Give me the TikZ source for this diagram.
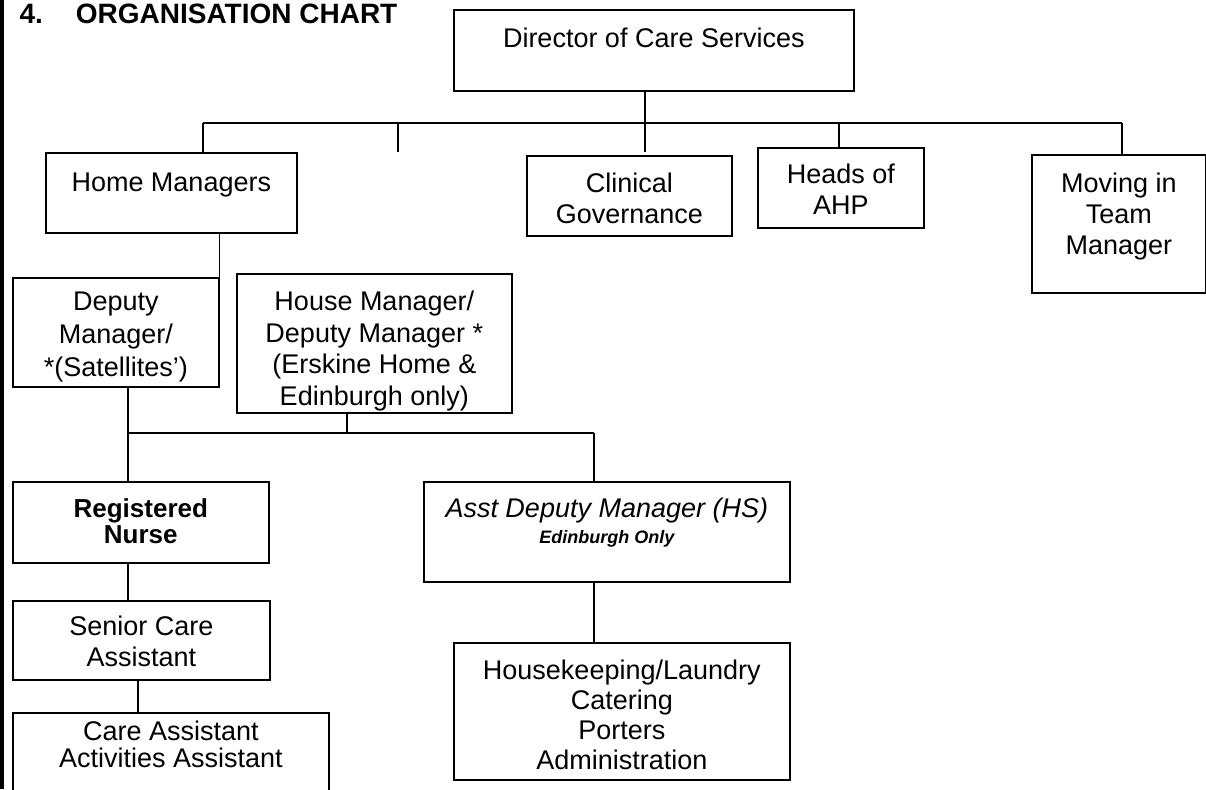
\documentclass[tikz,border=0pt]{standalone}
\usepackage{fontspec}
\setmainfont{Liberation Sans}
\usepackage{tikz}
\newcommand{\orgfont}{\fontsize{27}{31}\selectfont}
\tikzset{
  org_box/.style = {draw=black, line width=1.6pt, inner sep=0pt, align=center, anchor=north west, font=\orgfont},
  org_line/.style = {draw=black, line width=1.6pt},
}

\begin{document}
\begin{tikzpicture}[x=1pt, y=-1pt]
  \useasboundingbox (0,0) rectangle (1206,789);
  \clip (0,0) rectangle (1206,789);
  \fill[black] (0,0) rectangle (4,789);

  \node [anchor=base west, font=\fontsize{28}{32}\selectfont\bfseries] (title) at (16,24)
    {4.\hspace{33pt}ORGANISATION CHART};

  % top level
  \node [org_box, minimum width=400pt, minimum height=81pt, text height=37.5pt, text depth=43.5pt]
    (dir) at (453,9) {Director of Care Services};
  \node [org_box, minimum width=251pt, minimum height=80pt, text height=38.5pt, text depth=41.5pt]
    (hm) at (45,152) {Home Managers};
  \node [org_box, minimum width=205pt, minimum height=80pt, text height=67.6pt, text depth=12.4pt]
    (cg) at (526,155) {Clinical\\Governance};
  \node [org_box, minimum width=166pt, minimum height=80pt, text height=66.7pt, text depth=13.3pt]
    (ahp) at (757,147) {Heads of\\AHP};
  \node [org_box, minimum width=174pt, minimum height=138pt, text height=99.7pt, text depth=38.3pt]
    (mit) at (1031,154) {Moving in\\Team\\Manager};

  % managers
  \node [org_box, font=\fontsize{27}{33}\selectfont, minimum width=206pt, minimum height=109pt, text height=99pt, text depth=10pt]
    (dep) at (12,277) {Deputy\\Manager/\\*(Satellites’)};
  \node [org_box, font=\fontsize{27}{31.7}\selectfont, minimum width=275pt, minimum height=139pt, text height=131.8pt, text depth=7.2pt]
    (hse) at (236,273) {House Manager/\\Deputy Manager *\\(Erskine Home \&\\Edinburgh only)};

  % staff
  \node [org_box, font=\fontsize{26}{26}\selectfont\bfseries, minimum width=256pt, minimum height=81pt, text height=61.7pt, text depth=19.3pt]
    (rn) at (12,481) {Registered\\Nurse};
  \node [org_box, minimum width=366pt, minimum height=100pt, text height=62pt, text depth=38pt]
    (adm) at (423,481) {{\itshape Asst Deputy Manager (HS)}\\[-5pt]{\fontsize{18}{20}\selectfont\bfseries\itshape Edinburgh Only}};
  \node [org_box, font=\fontsize{27}{30}\selectfont, minimum width=336pt, minimum height=137pt, text height=127pt, text depth=10pt]
    (hk) at (453,642) {Housekeeping/Laundry\\Catering\\Porters\\Administration};
  \node [org_box, minimum width=257pt, minimum height=79pt, text height=66pt, text depth=13pt]
    (sca) at (12,600) {Senior Care\\Assistant};
  \node [org_box, font=\fontsize{27}{27}\selectfont, minimum width=316pt, minimum height=90pt, text height=55pt, text depth=35pt]
    (ca) at (12,712) {Care Assistant\\Activities Assistant};

  % junctions
  \coordinate (t1) at (203,123);
  \coordinate (t2) at (398,123);
  \coordinate (t2end) at (398,152);
  \coordinate (t3) at (645,123);
  \coordinate (t3end) at (645,152);
  \coordinate (t4) at (839,123);
  \coordinate (t5) at (1122,123);
  \coordinate (u1) at (128,433);
  \coordinate (u2) at (594,433);
  \coordinate (u3) at (347,433);
  \coordinate (u4) at (138,700);

  \draw [org_line] (t1) -- (t5);
  \draw [org_line] (t1) -- (hm.north -| t1);
  \draw [org_line] (t2) -- (t2end);
  \draw [org_line] (dir.south -| t3) -- (t3end);
  \draw [org_line] (t4) -- (ahp.north -| t4);
  \draw [org_line] (t5) -- (mit.north -| t5);

  \draw [org_line] (hm.south -| dep.north east) -- (dep.north east);
  \draw [org_line] (u1) -- (u2);
  \draw [org_line] (dep.south -| u1) -- (rn.north -| u1);
  \draw [org_line] (hse.south -| u3) -- (u3);
  \draw [org_line] (u2) -- (adm.north -| u2);
  \draw [org_line] (adm.south -| u2) -- (hk.north -| u2);
  \draw [org_line] (rn.south -| u1) -- (sca.north -| u1);
  \draw [org_line] (sca.south -| u4) -- (ca.north -| u4);
\end{tikzpicture}
\end{document}
